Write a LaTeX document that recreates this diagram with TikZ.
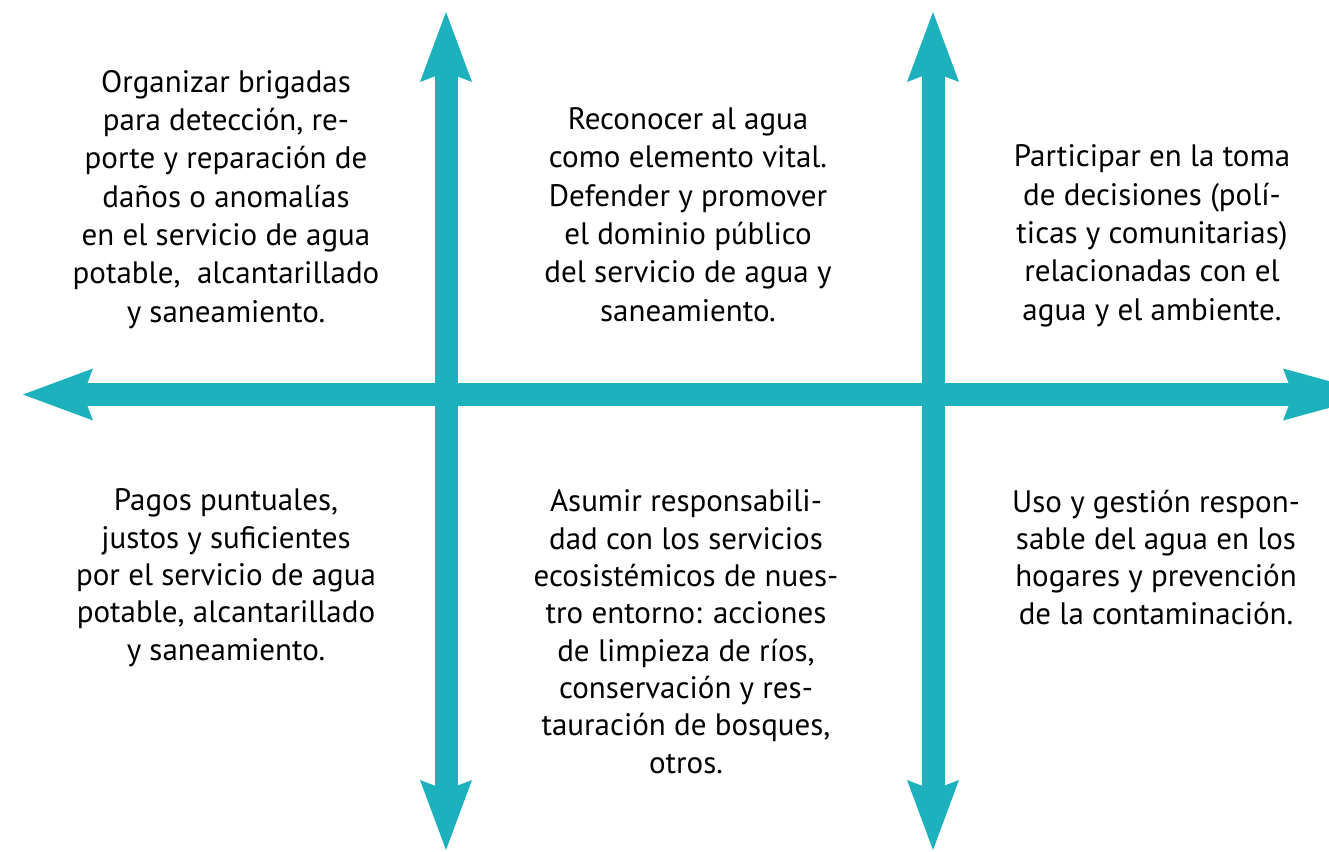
\documentclass[tikz,border=0pt]{standalone}
\usepackage{fontspec}
\setmainfont{PT Sans}
\usetikzlibrary{arrows.meta}
\definecolor{axisteal}{RGB}{29,177,190}
\begin{document}
\begin{tikzpicture}[x=1pt,y=-1pt,
  headA/.tip={Stealth[length=70pt,width=52pt,inset=10pt,line width=0pt]},
  headB/.tip={Stealth[length=95pt,width=52pt,inset=10pt,line width=0pt]},
  axisline/.style={line width=23pt, draw=axisteal, fill=axisteal},
  txt/.style={align=center, anchor=base, inner sep=0pt, text=black,
    font=\fontsize{31}{38.3}\selectfont},
  txtb/.style={txt, font=\fontsize{31}{37.3}\selectfont}]
\clip (0,0) rectangle (1329,851);
\useasboundingbox (0,0) rectangle (1329,851);
\fill[white] (0,0) rectangle (1329,851);
% arrow end points
\coordinate (hl) at (23,394.5);
\coordinate (hr) at (1378,394.5);
\coordinate (v1t) at (446,12);
\coordinate (v1b) at (446,850);
\coordinate (v2t) at (933,12);
\coordinate (v2b) at (933,850);
\draw[axisline, headA-headB] (hl) -- (hr);
\draw[axisline, headA-headA] (v1b) -- (v1t);
\draw[axisline, headA-headA] (v2b) -- (v2t);
% texts (base anchor = baseline of the last line)
\node[txt] (t1) at (226,322) {Organizar brigadas\\para detección, re-\\porte y reparación de\\daños o anomalías\\en el servicio de agua\\potable,\ \ alcantarillado\\y saneamiento.};
\node[txt] (t2) at (688,321) {Reconocer al agua\\como elemento vital.\\Defender y promover\\el dominio público\\del servicio de agua y\\saneamiento.};
\node[txt] (t3) at (1152,320) {Participar en la toma\\de decisiones (polí-\\ticas y comunitarias)\\relacionadas con el\\agua y el ambiente.};
\node[txtb] (t4) at (226,660) {Pagos puntuales,\\justos y suficientes\\por el servicio de agua\\potable, alcantarillado\\y saneamiento.};
\node[txtb] (t5) at (686,773) {Asumir responsabili-\\dad con los servicios\\ecosistémicos de nues-\\tro entorno: acciones\\de limpieza de ríos,\\conservación y res-\\tauración de bosques,\\otros.};
\node[txtb] (t6) at (1156,624) {Uso y gestión respon-\\sable del agua en los\\hogares y prevención\\de la contaminación.};
\end{tikzpicture}
\end{document}
